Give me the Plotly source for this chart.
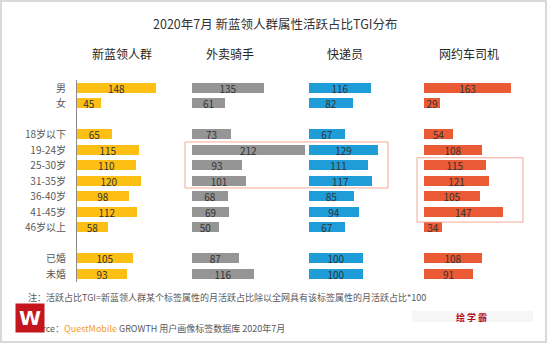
import plotly.graph_objects as go

W, H = 549, 343

groups = [["男", "女"],
          ["18岁以下", "19-24岁", "25-30岁", "31-35岁", "36-40岁", "41-45岁", "46岁以上"],
          ["已婚", "未婚"]]
columns = ["新蓝领人群", "外卖骑手", "快递员", "网约车司机"]
v_xinlanling = [148, 45, 65, 115, 110, 120, 98, 112, 58, 105, 93]
v_waimai = [135, 61, 73, 212, 93, 101, 68, 69, 50, 87, 116]
v_kuaidi = [116, 82, 67, 129, 111, 117, 85, 94, 67, 100, 100]
v_wangyue = [163, 29, 54, 108, 115, 121, 105, 147, 34, 108, 91]
series = [v_xinlanling, v_waimai, v_kuaidi, v_wangyue]
colors = ["#FDBF14", "#959595", "#1E9DD8", "#EA5A34"]

title = "2020年7月 新蓝领人群属性活跃占比TGI分布"
note = "注：活跃占比TGI=新蓝领人群某个标签属性的月活跃占比除以全网具有该标签属性的月活跃占比*100"

# row positions with a blank row between groups
labels, pos = [], []
p = 0
for g in groups:
    for lab in g:
        labels.append(lab)
        pos.append(p)
        p += 1
    p += 1


def px(x):
    return x / W


def py(y):
    return 1 - y / H


FONT = "Noto Sans CJK SC"
fig = go.Figure()

col_start = [77, 192, 309, 424]
col_w = 114
scale = 0.535  # px per unit
xmax = col_w / scale
header_x = [122, 230, 345, 469]

for i, (vals, c) in enumerate(zip(series, colors)):
    xa = "x" if i == 0 else f"x{i+1}"
    fig.add_trace(go.Bar(
        x=vals, y=pos, orientation="h", xaxis=xa, yaxis="y",
        marker=dict(color=c, line=dict(width=0)), width=0.65,
        text=[str(v) for v in vals], textposition="inside", textangle=0,
        insidetextanchor="middle", constraintext="none",
        textfont=dict(size=10, color="#333333", family=FONT),
        cliponaxis=False, hoverinfo="skip", showlegend=False))
    key = "xaxis" if i == 0 else f"xaxis{i+1}"
    fig.layout[key] = dict(domain=[px(col_start[i]), px(col_start[i] + col_w)],
                           range=[0, xmax], visible=False, anchor="y", fixedrange=True)

fig.update_layout(
    width=W, height=H, margin=dict(l=0, r=0, t=0, b=0),
    paper_bgcolor="white", plot_bgcolor="rgba(0,0,0,0)",
    bargap=0, barmode="overlay",
    yaxis=dict(domain=[py(281.75), py(80.25)], range=[12.5, -0.5],
               tickvals=pos, ticktext=labels, showline=True, linecolor="#8a8a8a",
               linewidth=1, ticks="outside", ticklen=8, tickcolor="rgba(0,0,0,0)",
               tickfont=dict(size=10, color="#595959", family=FONT),
               showgrid=False, zeroline=False, anchor="x", fixedrange=True),
)


def A(text, x, y, size, color, xanchor="center", **kw):
    return dict(text=text, x=px(x), y=py(y), xref="paper", yref="paper",
                xanchor=xanchor, yanchor="middle", showarrow=False,
                font=dict(size=size, color=color, family=kw.pop("family", FONT)), **kw)


ann = [A(title, 275, 23, 12.5, "#333333")]
for hx, name in zip(header_x, columns):
    ann.append(A(name, hx, 54, 12, "#262626"))
ann.append(A(note, 26, 297, 9, "#595959", xanchor="left"))
ann.append(A('Source：<span style="color:#F39A2E">QuestMobile</span> GROWTH 用户画像标签数据库 2020年7月',
             24, 328, 9, "#595959", xanchor="left"))
ann.append(A("<b>W</b>", 30, 318, 20, "white", bgcolor="#C4161C", width=26, height=26,
             borderpad=1, family="DejaVu Sans"))
ann.append(A("<b>绘 学 霸</b>", 471, 317, 9, "#B0101C"))
fig.update_layout(annotations=ann)

shapes = [
    dict(type="rect", xref="paper", yref="paper", x0=px(1), x1=px(546), y0=py(342), y1=py(1),
         line=dict(color="#d9d9d9", width=2), layer="below"),
    dict(type="rect", xref="paper", yref="paper", x0=px(412), x1=px(533), y0=py(322), y1=py(311),
         fillcolor="#f6f6f6", line=dict(width=0), layer="below"),
    dict(type="rect", xref="paper", yref="y", x0=px(185), x1=px(388), y0=3.48, y1=6.45,
         line=dict(color="#F3A898", width=1), layer="above"),
    dict(type="rect", xref="paper", yref="y", x0=px(417), x1=px(523), y0=4.5, y1=8.65,
         line=dict(color="#F3A898", width=1), layer="above"),
]
fig.update_layout(shapes=shapes)

fig.write_html("out.html")
